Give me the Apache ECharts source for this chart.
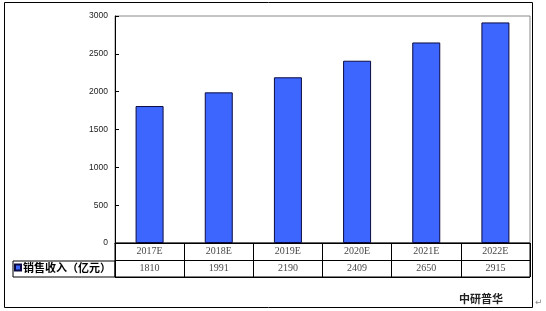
<!DOCTYPE html>
<html>
<head>
<meta charset="utf-8">
<script src="https://cdn.jsdelivr.net/npm/echarts@6/dist/echarts.min.js"></script>
<style>html,body{margin:0;padding:0;background:#fff}#c{width:546px;height:311px}</style>
</head>
<body>
<div id="c"></div>
<script>
const categories = ['2017E', '2018E', '2019E', '2020E', '2021E', '2022E'];
const salesValues = [1810, 1991, 2190, 2409, 2650, 2915];
const seriesName = '销售收入（亿元）';
const yTicks = { min: 0, max: 3000, interval: 500 };
const sourceText = '中研普华';

const chart = echarts.init(document.getElementById('c'), null, { renderer: 'canvas' });
const tableFont = { fontFamily: 'Liberation Serif', fontSize: 10, color: '#111' };

chart.setOption({
  animation: false,
  backgroundColor: '#fff',
  grid: [
    { left: 115, right: 16, top: 16, bottom: 68, show: true, borderColor: '#8a8a8a', borderWidth: 1 },
    { left: 115, right: 16, top: 243, height: 34, show: true, borderColor: '#000', borderWidth: 1 },
    { left: 13, width: 102, top: 261, height: 16, show: true, borderColor: '#000', borderWidth: 1 }
  ],
  xAxis: [
    { type: 'category', gridIndex: 0, data: categories, boundaryGap: true,
      axisLine: { show: true, lineStyle: { color: '#000', width: 1 } },
      axisTick: { show: false }, axisLabel: { show: false }, splitLine: { show: false } },
    { type: 'category', gridIndex: 1, data: categories, boundaryGap: true,
      axisLine: { show: false }, axisTick: { show: false }, axisLabel: { show: false },
      splitLine: { show: true, lineStyle: { color: '#000', width: 1 } } },
    { type: 'category', gridIndex: 2, data: ['x'], show: false }
  ],
  yAxis: [
    { type: 'value', gridIndex: 0, min: yTicks.min, max: yTicks.max, interval: yTicks.interval,
      axisLine: { show: true, lineStyle: { color: '#000', width: 1 } },
      axisTick: { show: true, inside: true, length: 4, lineStyle: { color: '#000' } },
      axisLabel: { fontFamily: 'Liberation Sans', fontSize: 8.5, color: '#222', margin: 7, formatter: v => String(v) },
      splitLine: { show: false } },
    { type: 'value', gridIndex: 1, min: 0, max: 2, interval: 1,
      axisLine: { show: false }, axisTick: { show: false }, axisLabel: { show: false },
      splitLine: { show: true, lineStyle: { color: '#000', width: 1 } } },
    { type: 'value', gridIndex: 2, show: false, min: 0, max: 1 }
  ],
  legend: {
    data: [seriesName], left: 14, top: 262, icon: 'rect', itemWidth: 6, itemHeight: 6, itemGap: 2,
    padding: 0,
    textStyle: { fontFamily: 'Noto Sans CJK SC', fontSize: 11, fontWeight: 'bold', color: '#000', padding: [0, 0, 0, -3] }
  },
  series: [
    { name: seriesName, type: 'bar', xAxisIndex: 0, yAxisIndex: 0, data: salesValues, barWidth: 28,
      itemStyle: { color: '#3d66ff', borderColor: '#0a0a40', borderWidth: 1 } },
    { name: 'years', type: 'scatter', xAxisIndex: 1, yAxisIndex: 1, symbolSize: 0,
      data: categories.map((c, i) => ({ value: [i, 1.5], label: { formatter: c } })),
      label: Object.assign({ show: true, position: 'inside' }, tableFont), silent: true },
    { name: 'values', type: 'scatter', xAxisIndex: 1, yAxisIndex: 1, symbolSize: 0,
      data: salesValues.map((v, i) => ({ value: [i, 0.5], label: { formatter: String(v) } })),
      label: Object.assign({ show: true, position: 'inside' }, tableFont), silent: true }
  ],
  graphic: [
    { type: 'rect', shape: { x: 4.5, y: 2.5, width: 528, height: 305 }, style: { fill: null, stroke: '#000', lineWidth: 1 }, silent: true, z: 100 },
    { type: 'text', left: 459, top: 293, style: { text: sourceText, font: 'bold 11px "Noto Sans CJK SC"', fill: '#222' } },
    { type: 'text', left: 535, top: 298, style: { text: '↵', font: '9px "DejaVu Sans"', fill: '#888' } }
  ]
});
</script>
</body>
</html>
